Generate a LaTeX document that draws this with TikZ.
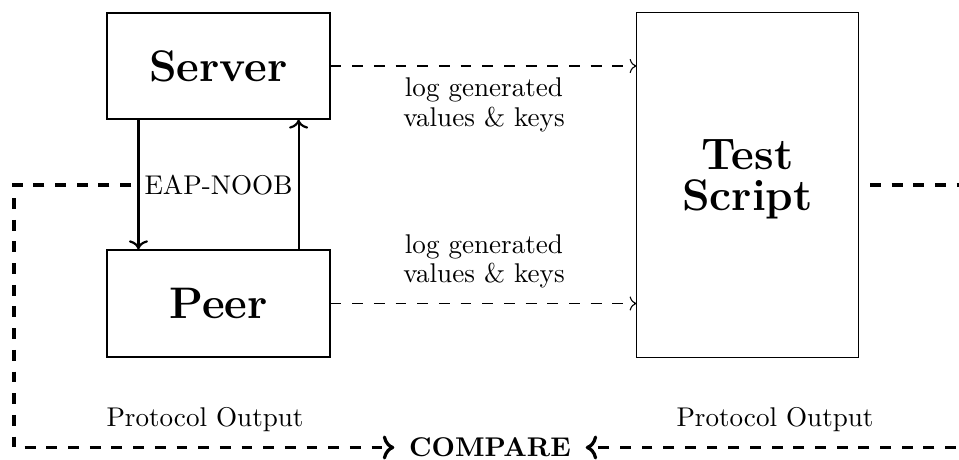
\documentclass[tikz,border=0pt]{standalone}
\usetikzlibrary{arrows.meta}
\begin{document}
\begin{tikzpicture}[x=0.369pt,y=-0.369pt,
  box/.style={draw, line width=0.4pt, inner sep=0pt, font=\fontsize{16.3}{15.3}\selectfont\bfseries, align=center},
  lbl/.style={font=\fontsize{10}{11}\selectfont, align=center, inner sep=0pt},
  logarrow/.style={->, dash pattern=on 4pt off 4pt, line width=0.4pt},
  msgarrow/.style={->, line width=0.8pt},
  outline/.style={->, dash pattern=on 4pt off 4pt, line width=1.2pt},
]
\useasboundingbox (0,0) rectangle (959,459);
\clip (0,0) rectangle (959,459);
% boxes
\node[box, minimum width=82.3pt, minimum height=39.1pt] (server) at (218.5,66) {Server};
\node[box, minimum width=82.3pt, minimum height=39.5pt] (peer) at (218.5,303.5) {Peer};
\node[box, minimum width=81.6pt, minimum height=127pt, text depth=7.5pt] (test) at (747.5,185) {Test\\Script};
% log arrows
\draw[logarrow] (server.east) -- (server.east -| test.west);
\draw[logarrow] (peer.east) -- (peer.east -| test.west);
\node[lbl, anchor=north] (log1) at (484,77) {log generated\\values \& keys};
\node[lbl, anchor=south] (log2) at (484,289) {log generated\\values \& keys};
% EAP-NOOB exchange
\draw[msgarrow] ([xshift=11.8pt]server.south west) -- ([xshift=11.8pt]peer.north west);
\draw[msgarrow] ([xshift=-11.8pt]peer.north east) -- ([xshift=-11.8pt]server.south east);
\node[lbl] (eap) at (218.5,185) {EAP-NOOB};
% compare
\node[font=\fontsize{10}{11}\selectfont\bfseries, inner ysep=0pt, inner xsep=5.3pt] (compare) at (490,447.5) {COMPARE};
\coordinate (c1) at (131,185);
\coordinate (c1a) at (14,185);
\coordinate (c1b) at (14,447.5);
\coordinate (c2) at (870,185);
\coordinate (c2a) at (966,185);
\coordinate (c2b) at (966,447.5);
\draw[outline] (c1) -- (c1a) -- (c1b) -- (compare.west);
\draw[outline] (c2) -- (c2a) -- (c2b) -- (compare.east);
\node[lbl] (po1) at (205,420) {Protocol Output};
\node[lbl] (po2) at (775,420) {Protocol Output};
\end{tikzpicture}
\end{document}
